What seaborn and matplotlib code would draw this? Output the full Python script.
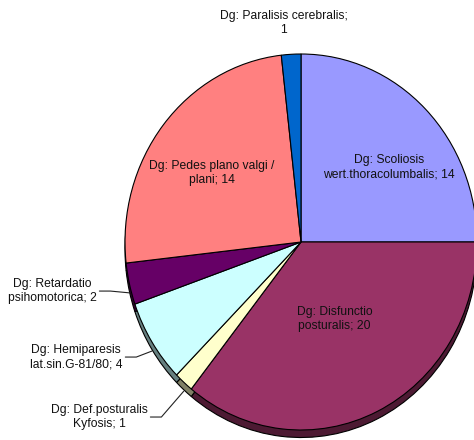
import numpy as np
import matplotlib
matplotlib.use("Agg")
import matplotlib.pyplot as plt
import seaborn as sns
from matplotlib.colors import to_rgb

# ---- data ----
categories = [
    "Dg: Scoliosis\nwert.thoracolumbalis",
    "Dg: Disfunctio\nposturalis",
    "Dg: Def.posturalis\nKyfosis",
    "Dg: Hemiparesis\nlat.sin.G-81/80",
    "Dg: Retardatio\npsihomotorica",
    "Dg: Pedes plano valgi /\nplani",
    "Dg: Paralisis cerebralis;\n",
]
values = [14, 20, 1, 4, 2, 14, 1]
colors = ["#9999FF", "#993366", "#FFFFCC", "#CCFFFF", "#660066", "#FF8080", "#0066CC"]

# ---- layout (radius units) ----
label_pos = [(0.50, 0.40), (0.19, -0.41), (-1.148, -0.931), (-1.278, -0.612),
             (-1.415, -0.261), (-0.506, 0.367), (-0.097, 1.165)]
outside = [False, False, True, True, True, False, False]
depth = 0.04

sns.set_theme(style="white")
plt.rcParams["font.family"] = ["Liberation Sans", "DejaVu Sans"]

W, H = 474, 440
fig = plt.figure(figsize=(W / 100, H / 100), dpi=100)
ax = fig.add_axes([0, 0, 1, 1])

dark = [tuple(c * 0.5 for c in to_rgb(col)) for col in colors]
ax.pie(values, colors=dark, startangle=90, counterclock=False, center=(0, -depth),
       wedgeprops=dict(edgecolor="black", linewidth=0.8))
wedges, _ = ax.pie(values, colors=colors, startangle=90, counterclock=False,
                   wedgeprops=dict(edgecolor="black", linewidth=0.8))

ax.set_aspect("auto")
rx, ry = 176, 188
cx, cy = 301, 440 - 242
ax.set_xlim(-cx / rx, (W - cx) / rx)
ax.set_ylim(-cy / ry, (H - cy) / ry)
ax.axis("off")

texts = []
for cat, v, (lx, ly), out in zip(categories, values, label_pos, outside):
    if cat.endswith("\n"):
        s = f"{cat}{v}"
    else:
        s = f"{cat}; {v}"
    t = ax.text(lx, ly, s, ha="center", va="center", fontsize=8.7,
                color="#111111", linespacing=1.28)
    texts.append(t)

fig.canvas.draw()
inv = ax.transData.inverted()
tot = sum(values)
cum = 0
for w, t, v, out in zip(wedges, texts, values, outside):
    mid = cum + v / 2
    cum += v
    if not out:
        continue
    ang = np.deg2rad(90 - mid / tot * 360)
    ex, ey = np.cos(ang), np.sin(ang) - depth * 1.2
    bb = t.get_window_extent()
    x0, y0 = inv.transform((bb.x1 + 3, (bb.y0 + bb.y1) / 2))
    x1, _ = inv.transform((bb.x1 + 14, 0))
    ax.plot([x0, x1, ex], [y0, y0, ey], color="#222222", lw=0.8, zorder=5)

fig.savefig("out.png", dpi=100)
